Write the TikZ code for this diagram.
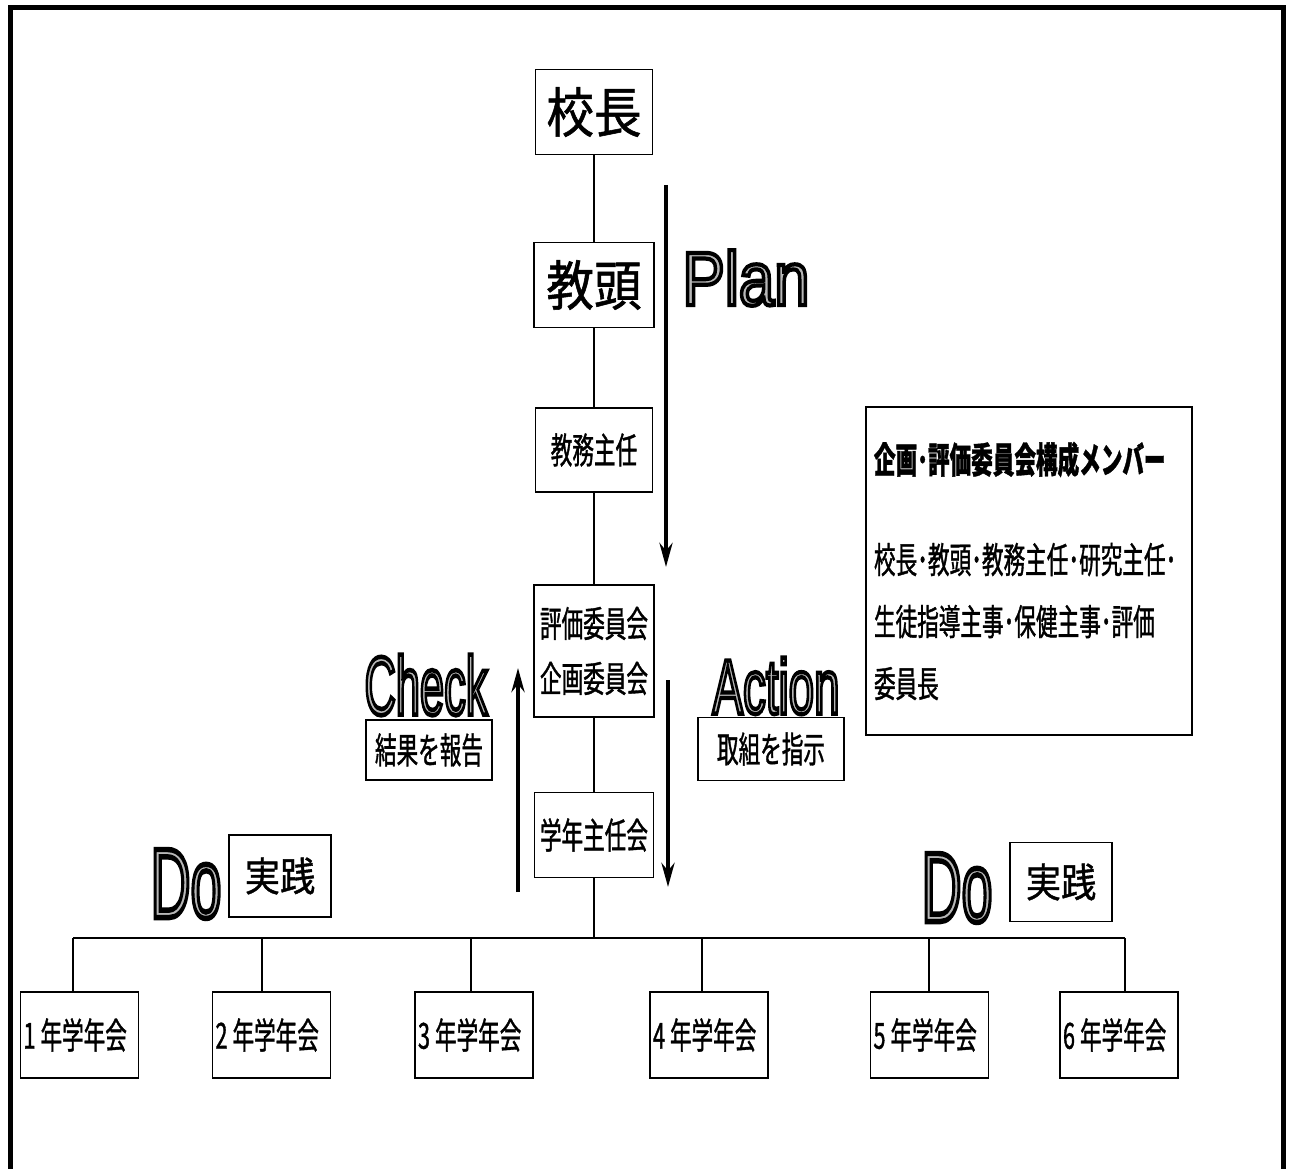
\documentclass[tikz,border=0pt]{standalone}
\usepackage{fontspec}
\usepackage{graphicx}
\usetikzlibrary{arrows.meta}

\newfontfamily\jpnarrow[FakeStretch=0.6,FakeBold=1]{Noto Sans CJK JP}
\newfontfamily\jpwide[FakeStretch=0.88,FakeBold=1]{Noto Sans CJK JP}
\newfontfamily\pdcafont[FakeBold=5.5]{Liberation Sans}

% grey letters with a black rim
\newcommand{\pdcaword}[3]{\resizebox{#1}{#2}{\special{pdf:bcolor [0.72] [0]}\pdcafont #3\special{pdf:ecolor}}}

\begin{document}
\begin{tikzpicture}[x=1pt,y=-1pt,
  box/.style={draw,line width=1.8pt,inner sep=0pt},
  link/.style={line width=1.3pt},
  pdca/.style={line width=4.5pt,-{Stealth[length=24pt,width=13pt]}},
  narrow/.style={font=\jpnarrow\fontsize{36}{55}\selectfont},
  wide/.style={font=\jpwide\fontsize{#1}{#1}\selectfont},
  grade/.style={box,narrow,minimum height=86,text width=112,inner xsep=3,align=left}]

\useasboundingbox (0,0) rectangle (1290,1169) ;

\draw[line width=5pt] (10,1175) -- (10,8) -- (1283,8) -- (1283,1175) ;

% chain of command
\node[box,wide=54,minimum width=117,minimum height=85] (kocho) at (594,112) {校長} ;
\node[box,wide=54,minimum width=120,minimum height=85] (kyoto) at (594,285) {教頭} ;
\node[box,narrow,minimum width=117,minimum height=84] (kyomu) at (594,450) {教務主任} ;
\node[box,narrow,minimum width=120,minimum height=132,align=center] (iinkai) at (594,651) {評価委員会\\企画委員会} ;
\node[box,narrow,minimum width=119,minimum height=85] (shunin) at (594,835) {学年主任会} ;

\draw[link] (kocho) -- (kyoto) ;
\draw[link] (kyoto) -- (kyomu) ;
\draw[link] (kyomu) -- (iinkai) ;
\draw[link] (iinkai) -- (shunin) ;

\coordinate (bar) at (594,938) ;
\draw[link] (shunin) -- (bar) ;

\foreach \n/\gx/\lx in {1/79.5/73,2/271.5/262,3/474/471,4/709/702,5/929.5/929,6/1119/1125} {
  \node[grade] (g\n) at (\gx,1035) {\n\hspace{5pt}年学年会} ;
  \coordinate (b\n) at (\lx,938) ;
  \draw[link] (b\n) -- (b\n |- g\n.north) ;
}
\draw[link] (b1) -- (b6) ;

% PDCA
\coordinate (plan start) at (666,185) ;
\coordinate (plan end) at (666,567) ;
\coordinate (check start) at (518,892) ;
\coordinate (check end) at (518,668) ;
\coordinate (action start) at (668,680) ;
\coordinate (action end) at (668,887) ;

\draw[pdca] (plan start) -- (plan end) ;
\draw[pdca] (check start) -- (check end) ;
\draw[pdca] (action start) -- (action end) ;

\node[inner sep=0] (plan) at (746,278) {\pdcaword{127pt}{55pt}{Plan}} ;
\node[inner sep=0] (check) at (426,685) {\pdcaword{123pt}{60pt}{Check}} ;
\node[inner sep=0] (action) at (776,686) {\pdcaword{127pt}{56pt}{Action}} ;
\node[inner sep=0] (do left) at (186,884) {\pdcaword{71pt}{68pt}{Do}} ;
\node[inner sep=0] (do right) at (957,888) {\pdcaword{71pt}{68pt}{Do}} ;

\node[box,narrow,minimum width=126,minimum height=60] (report) at (429,750) {結果を報告} ;
\node[box,narrow,minimum width=146,minimum height=63] (order) at (771,749) {取組を指示} ;
\node[box,wide=40,minimum width=102,minimum height=82] (jissen left) at (280,876) {実践} ;
\node[box,wide=40,minimum width=102,minimum height=79] (jissen right) at (1061,882) {実践} ;

% members
\node[box,text width=310,align=left,inner xsep=8,minimum height=328,font=\jpnarrow\fontsize{36}{62}\selectfont] (members) at (1029,571)
  {{\bfseries 企画･評価委員会構成メンバー}\\[38pt]校長･教頭･教務主任･研究主任･\\生徒指導主事･保健主事･評価\\委員長} ;

\end{tikzpicture}
\end{document}
